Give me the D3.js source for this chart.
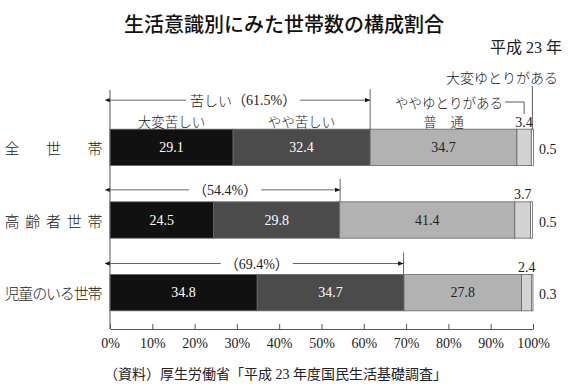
<!DOCTYPE html>
<html>
<head>
<meta charset="utf-8">
<script src="https://cdn.jsdelivr.net/npm/d3@7"></script>
<style>
  body { margin: 0; background: #fff; }
  svg text { font-family: "Liberation Serif", "Noto Sans CJK JP", serif; fill: #222; }
  .jp { font-family: "Noto Sans CJK JP", sans-serif; font-weight: 300; }
</style>
</head>
<body>
<svg id="chart" width="570" height="391"></svg>
<script>
var categories = ["全世帯", "高齢者世帯", "児童のいる世帯"];
var seriesNames = ["大変苦しい", "やや苦しい", "普通", "ややゆとりがある", "大変ゆとりがある"];
var allHouseholds = [29.1, 32.4, 34.7, 3.4, 0.5];
var elderlyHouseholds = [24.5, 29.8, 41.4, 3.7, 0.5];
var childHouseholds = [34.8, 34.7, 27.8, 2.4, 0.3];
var hardshipTotals = [61.5, 54.4, 69.4];
var tickValues = [0, 10, 20, 30, 40, 50, 60, 70, 80, 90, 100];

var colors = ["#111111", "#4b4b4b", "#b2b2b2", "#d3d3d3", "#ffffff"];

// build table for the stack
var rows = [allHouseholds, elderlyHouseholds, childHouseholds].map(function(vals, i) {
  var row = { cat: categories[i] };
  seriesNames.forEach(function(name, j) { row[name] = vals[j]; });
  return row;
});
var stacked = d3.stack().keys(seriesNames)(rows);

var svg = d3.select("#chart");
var x = d3.scaleLinear().domain([0, 100]).range([110, 533]);
var y = d3.scaleBand().domain(categories).range([111, 329]).paddingInner(0.5).paddingOuter(0.25);

// title
svg.append("text").attr("class", "jp")
  .attr("x", 284).attr("y", 23).attr("text-anchor", "middle").attr("dominant-baseline", "central")
  .style("font-size", "20px").style("font-weight", "500").style("fill", "#111")
  .text("生活意識別にみた世帯数の構成割合");
svg.append("text")
  .attr("x", 562).attr("y", 47).attr("text-anchor", "end").attr("dominant-baseline", "central")
  .style("font-size", "16px")
  .text("平成 23 年");

// arrow markers
var defs = svg.append("defs");
["start", "end"].forEach(function(kind) {
  defs.append("marker").attr("id", "arrow-" + kind)
    .attr("viewBox", "0 0 10 10").attr("refX", kind === "end" ? 10 : 0).attr("refY", 5)
    .attr("markerWidth", 6).attr("markerHeight", 6).attr("orient", "auto-start-reverse")
    .append("path").attr("d", "M0,1L10,5L0,9Z").attr("fill", "#111");
});

// bars
var layer = svg.append("g").selectAll("g").data(stacked).join("g")
  .attr("fill", function(d, i) { return colors[i]; });
layer.selectAll("rect").data(function(d) { return d; }).join("rect")
  .attr("x", function(d) { return x(d[0]); })
  .attr("y", function(d) { return y(d.data.cat); })
  .attr("width", function(d) { return x(d[1]) - x(d[0]); })
  .attr("height", y.bandwidth())
  .attr("stroke", "#666").attr("stroke-width", 0.8);

// values inside bars (first three series)
stacked.slice(0, 3).forEach(function(series, si) {
  svg.append("g").selectAll("text").data(series).join("text")
    .attr("x", function(d) { return x((d[0] + d[1]) / 2); })
    .attr("y", function(d) { return y(d.data.cat) + y.bandwidth() / 2; })
    .attr("text-anchor", "middle").attr("dominant-baseline", "central")
    .style("font-size", "14px")
    .style("fill", si < 2 ? "#fff" : "#222")
    .text(function(d) { return d3.format(".1f")(d[1] - d[0]); });
});

// small segments: value above / to the right
svg.append("g").selectAll("text").data(stacked[3]).join("text")
  .attr("x", function(d) { return x((d[0] + d[1]) / 2); })
  .attr("y", function(d) { return y(d.data.cat) - 7; })
  .attr("text-anchor", "middle").attr("dominant-baseline", "central")
  .style("font-size", "14px")
  .text(function(d) { return d3.format(".1f")(d[1] - d[0]); });
svg.append("g").selectAll("text").data(stacked[4]).join("text")
  .attr("x", 539)
  .attr("y", function(d) { return y(d.data.cat) + y.bandwidth() / 2 + 2; })
  .attr("dominant-baseline", "central")
  .style("font-size", "14px")
  .text(function(d) { return d3.format(".1f")(d[1] - d[0]); });

// series names above the first row
var firstRow = stacked.map(function(s) { return s[0]; });
var topY = y(categories[0]);
[0, 1, 2].forEach(function(i) {
  svg.append("text").attr("class", "jp")
    .attr("x", x((firstRow[i][0] + firstRow[i][1]) / 2)).attr("y", topY - 8)
    .attr("text-anchor", "middle").attr("dominant-baseline", "central")
    .style("font-size", "13.5px")
    .text(i === 2 ? "普　通" : seriesNames[i]);
});
var seg4x = x((firstRow[3][0] + firstRow[3][1]) / 2);
var seg5x = x((firstRow[4][0] + firstRow[4][1]) / 2);
svg.append("text").attr("class", "jp")
  .attr("x", 503).attr("y", 102).attr("text-anchor", "end").attr("dominant-baseline", "central")
  .style("font-size", "13.5px").text(seriesNames[3]);
svg.append("path").attr("d", "M505,102H" + seg4x + "V114")
  .attr("fill", "none").attr("stroke", "#333").attr("stroke-width", 0.8);
svg.append("text").attr("class", "jp")
  .attr("x", 558).attr("y", 77).attr("text-anchor", "end").attr("dominant-baseline", "central")
  .style("font-size", "14px").text(seriesNames[4]);
svg.append("line").attr("x1", seg5x).attr("x2", seg5x).attr("y1", 86).attr("y2", topY)
  .attr("stroke", "#333").attr("stroke-width", 0.8);

// hardship brackets
var bracketOffset = [29, 12, 11];
hardshipTotals.forEach(function(total, i) {
  var by = y(categories[i]) - bracketOffset[i];
  var xe = x(total);
  var g = svg.append("g");
  g.append("line").attr("x1", xe).attr("x2", xe).attr("y1", by - 11).attr("y2", y(categories[i]))
    .attr("stroke", "#555").attr("stroke-width", 0.9);
  g.append("line").attr("x1", x(0)).attr("x2", xe).attr("y1", by).attr("y2", by)
    .attr("stroke", "#555").attr("stroke-width", 0.9)
    .attr("marker-start", "url(#arrow-start)").attr("marker-end", "url(#arrow-end)");
  var t = g.append("text")
    .attr("x", (x(0) + xe) / 2 + (i === 0 ? 3 : 0)).attr("y", by)
    .attr("text-anchor", "middle").attr("dominant-baseline", "central")
    .style("font-size", "14px");
  if (i === 0) t.append("tspan").attr("class", "jp").text("苦しい");
  t.append("tspan").text("（" + d3.format(".1f")(total) + "%）");
  var bb = t.node().getBBox();
  g.insert("rect", "text").attr("x", bb.x - 4).attr("y", bb.y).attr("width", bb.width + 8).attr("height", bb.height)
    .attr("fill", "#fff");
});

// vertical axis line
svg.append("line").attr("x1", x(0)).attr("x2", x(0)).attr("y1", 90).attr("y2", 329)
  .attr("stroke", "#555").attr("stroke-width", 1);

// category labels, characters spread evenly
categories.forEach(function(cat) {
  var chars = cat.split("");
  var step = (95 - 12) / (chars.length - 1);
  svg.append("g").selectAll("text").data(chars).join("text").attr("class", "jp")
    .attr("x", function(c, k) { return 12 + k * step; })
    .attr("y", y(cat) + y.bandwidth() / 2)
    .attr("text-anchor", "middle").attr("dominant-baseline", "central")
    .style("font-size", "15px")
    .text(function(c) { return c; });
});

// x axis
var axis = svg.append("g").attr("transform", "translate(0,329)")
  .call(d3.axisBottom(x).tickValues(tickValues).tickSizeInner(-5).tickSizeOuter(0).tickPadding(9)
    .tickFormat(function(d) { return d + "%"; }));
axis.select(".domain").attr("stroke", "#555");
axis.selectAll(".tick line").attr("stroke", "#555");
axis.selectAll(".tick text").style("font-size", "14px").style("font-family", "Liberation Serif").attr("fill", "#222");

// source
svg.append("text")
  .attr("x", 104).attr("y", 374).attr("dominant-baseline", "central")
  .style("font-size", "14px")
  .text("（資料）厚生労働省「平成 23 年度国民生活基礎調査」");
</script>
</body>
</html>
